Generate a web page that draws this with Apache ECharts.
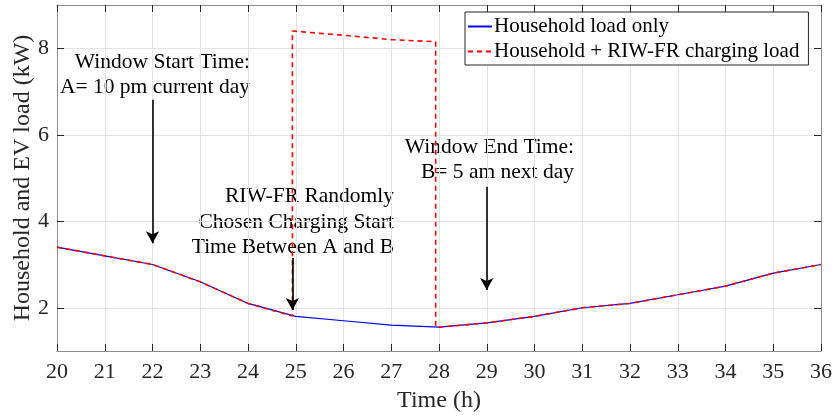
<!DOCTYPE html>
<html>
<head>
<meta charset="utf-8">
<script src="https://cdn.jsdelivr.net/npm/echarts@6/dist/echarts.min.js"></script>
<style>
  html, body { margin: 0; padding: 0; background: #fff; }
  #chart { width: 835px; height: 418px; }
</style>
</head>
<body>
<div id="chart"></div>
<script>
// Household demand per hour (hours past midnight of the current day)
const hours = [20, 21, 22, 23, 24, 25, 26, 27, 28, 29, 30, 31, 32, 33, 34, 35, 36];
const householdLoad = [3.4, 3.2, 3.0, 2.6, 2.1, 1.8, 1.7, 1.6, 1.55, 1.65, 1.8, 2.0, 2.1, 2.3, 2.5, 2.8, 3.0];

// Household plus RIW-FR charging (charging between 24.93 h and 27.93 h)
const combinedTimes = [20, 21, 22, 23, 24, 24.93, 24.93, 26, 27, 27.93, 27.93, 28, 29, 30, 31, 32, 33, 34, 35, 36];
const combinedLoad = [3.4, 3.2, 3.0, 2.6, 2.1, 1.81, 8.4, 8.3, 8.2, 8.15, 1.555, 1.55, 1.65, 1.8, 2.0, 2.1, 2.3, 2.5, 2.8, 3.0];

// Annotation arrows: hour, tail value, head value
const arrowHours = [22, 24.93, 29];
const arrowTail = [6.81, 3.15, 4.8];
const arrowHead = [3.49, 1.95, 2.41];

const yTicks = [2, 4, 6, 8];

const FONT = '"Liberation Serif", "Times New Roman", serif';
const AXIS_GRAY = '#8c8c8c';
const TICK_DARK = '#262626';
const GRID_GRAY = '#e3e3e3';

const chart = echarts.init(document.getElementById('chart'));

const zip = (xs, ys) => xs.map((x, i) => [x, ys[i]]);

const arrowLines = arrowHours.map((h, i) => [
  { coord: [h, arrowTail[i]] },
  { coord: [h, arrowHead[i]] }
]);

chart.setOption({
  animation: false,
  backgroundColor: '#fff',
  grid: { left: 57, right: 14, top: 5, bottom: 67, containLabel: false, outerBoundsMode: 'none' },
  legend: {
    orient: 'vertical',
    left: 465,
    top: 12,
    data: ['Household load only', 'Household + RIW-FR charging load'],
    itemWidth: 24,
    itemGap: 4,
    padding: [4, 9, 3, 2],
    backgroundColor: '#fff',
    borderColor: '#262626',
    borderWidth: 1,
    borderRadius: 0,
    itemStyle: { opacity: 0 },
    textStyle: { fontFamily: FONT, fontSize: 21, color: '#000', padding: [0, 0, 0, -3] }
  },
  xAxis: [
    {
      type: 'value', min: 20, max: 36, interval: 1,
      name: 'Time (h)', nameLocation: 'middle', nameGap: 38,
      nameTextStyle: { fontFamily: FONT, fontSize: 24, color: '#262626' },
      axisLine: { lineStyle: { color: AXIS_GRAY, width: 1 } },
      axisTick: { inside: true, length: 7, lineStyle: { color: TICK_DARK, width: 1 } },
      axisLabel: { fontFamily: FONT, fontSize: 22, color: '#262626', margin: 10 },
      splitLine: { show: true, lineStyle: { color: GRID_GRAY, width: 1 } }
    },
    {
      type: 'value', min: 20, max: 36, interval: 1, position: 'top',
      axisLine: { show: true, lineStyle: { color: AXIS_GRAY, width: 1 } },
      axisTick: { inside: true, length: 7, lineStyle: { color: TICK_DARK, width: 1 } },
      axisLabel: { show: false },
      splitLine: { show: false }
    }
  ],
  yAxis: [
    {
      type: 'value', min: 1, max: 9,
      name: 'Household and EV load (kW)', nameLocation: 'middle', nameGap: 22,
      nameMoveOverlap: false,
      nameTextStyle: { fontFamily: FONT, fontSize: 24, color: '#262626' },
      axisLine: { show: true, lineStyle: { color: AXIS_GRAY, width: 1 } },
      axisTick: { show: true, inside: true, length: 7, customValues: yTicks, lineStyle: { color: TICK_DARK, width: 1 } },
      axisLabel: { fontFamily: FONT, fontSize: 22, color: '#262626', margin: 8, customValues: yTicks },
      splitLine: { show: true, lineStyle: { color: GRID_GRAY, width: 1 } }
    },
    {
      type: 'value', min: 1, max: 9, position: 'right',
      axisLine: { show: true, lineStyle: { color: AXIS_GRAY, width: 1 } },
      axisTick: { show: true, inside: true, length: 7, customValues: yTicks, lineStyle: { color: TICK_DARK, width: 1 } },
      axisLabel: { show: false, customValues: yTicks },
      splitLine: { show: false }
    }
  ],
  series: [
    {
      name: 'Household load only',
      type: 'line',
      data: zip(hours, householdLoad),
      showSymbol: false,
      symbol: 'none',
      lineStyle: { color: '#0000ff', width: 1.2 },
      itemStyle: { color: '#0000ff' },
      z: 2
    },
    {
      name: 'Household + RIW-FR charging load',
      type: 'line',
      data: zip(combinedTimes, combinedLoad),
      showSymbol: false,
      symbol: 'none',
      lineStyle: { color: '#ff0000', width: 1.6, type: [5, 4] },
      itemStyle: { color: '#ff0000' },
      z: 3
    },
    {
      name: 'arrows',
      type: 'line',
      data: [],
      z: 4,
      markLine: {
        silent: true,
        symbol: ['none', 'arrow'],
        symbolSize: [10, 12],
        label: { show: false },
        lineStyle: { color: '#000', width: 1.6, type: 'solid' },
        data: arrowLines
      }
    }
  ],
  graphic: [
    {
      type: 'text', x: 250, y: 50,
      style: {
        text: 'Window Start Time:\nA= 10 pm current day',
        font: '21.5px ' + FONT, fill: '#000', align: 'right', lineHeight: 25
      }
    },
    {
      type: 'text', x: 394, y: 184,
      style: {
        text: 'RIW-FR Randomly\nChosen Charging Start\nTime Between A and B',
        font: '21.5px ' + FONT, fill: '#000', align: 'right', lineHeight: 25.5
      }
    },
    {
      type: 'text', x: 574, y: 135.5,
      style: {
        text: 'Window End Time:\nB= 5 am next day',
        font: '21.5px ' + FONT, fill: '#000', align: 'right', lineHeight: 24.5
      }
    }
  ]
});
</script>
</body>
</html>
